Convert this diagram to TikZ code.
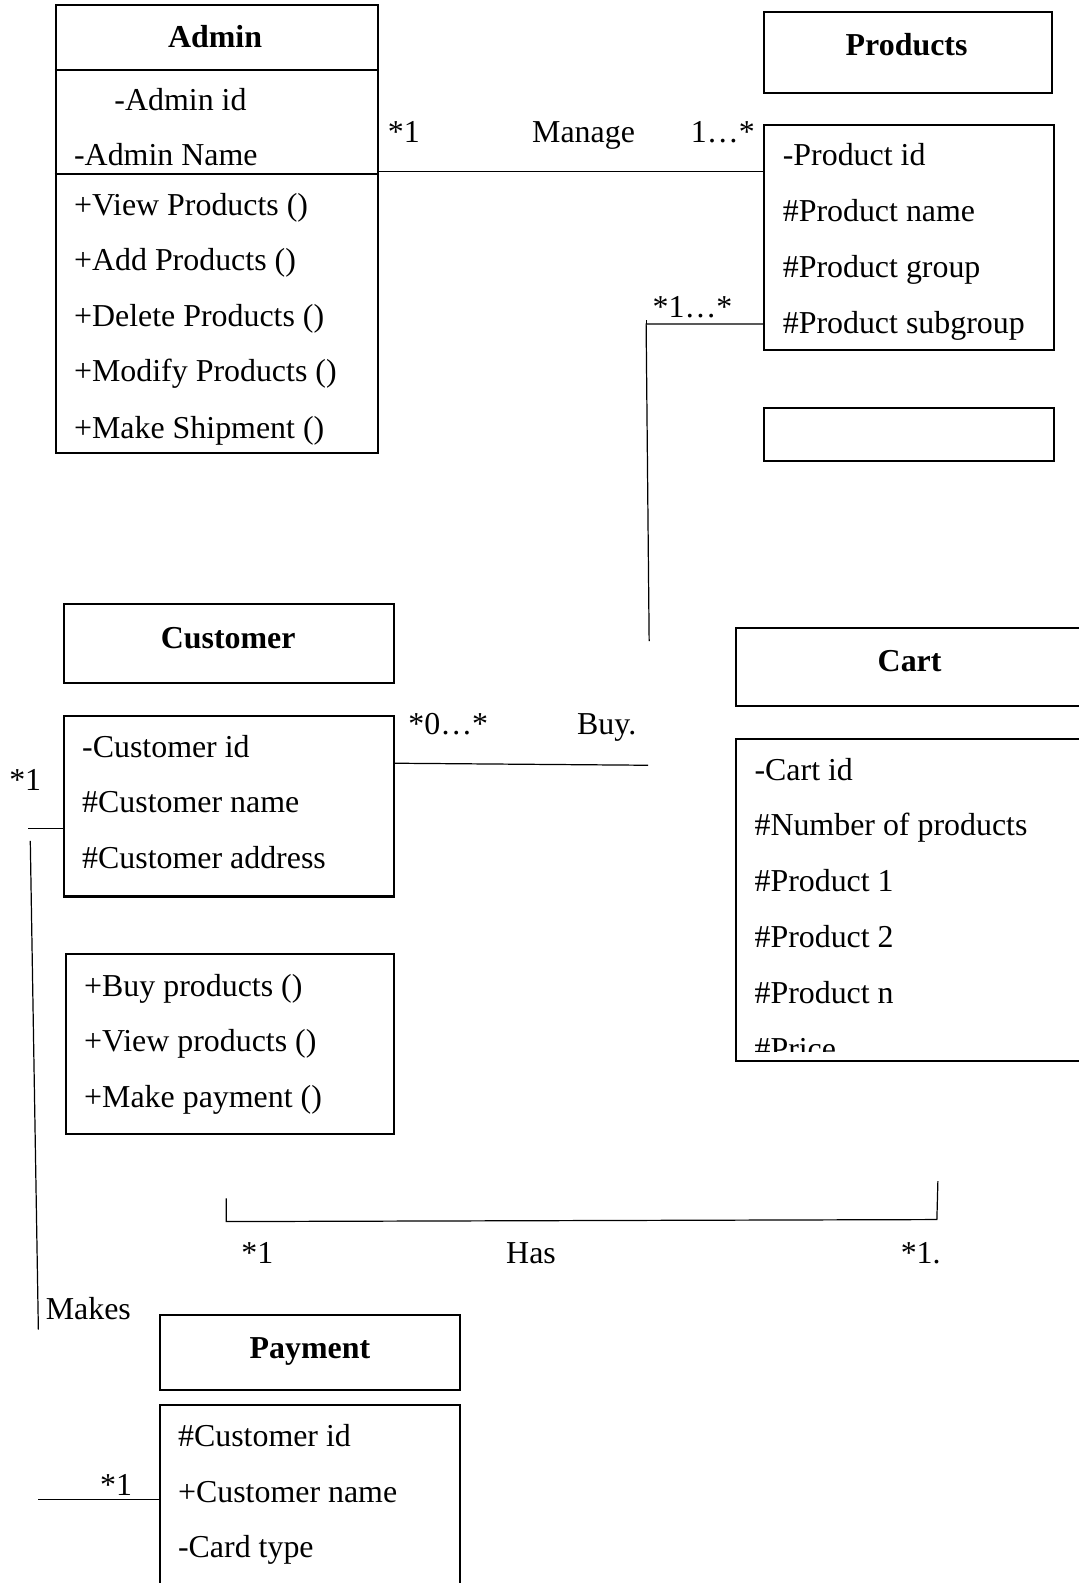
\documentclass[tikz,border=0pt]{standalone}
\usepackage{fontspec}
\setmainfont{Liberation Serif}
\usetikzlibrary{fit}
\begin{document}
\begin{tikzpicture}[x=0.5pt,y=-0.5pt,
  every node/.style={font=\fontsize{15.8}{19}\selectfont,inner sep=0pt},
  box/.style={draw,line width=1pt,inner sep=0pt},
  head/.style={font=\fontsize{15.8}{19}\selectfont\bfseries,anchor=base},
  item/.style={anchor=base west},
  lbl/.style={anchor=base},
  link/.style={line width=0.6pt}]
\useasboundingbox (0,0) rectangle (1068,1568);
% Admin
\node[box,fit={(55,5) (374,449)}] (admin) {};
\draw[line width=1pt] (admin.west |- 0,69) -- (admin.east |- 0,69);
\draw[line width=1pt] (admin.west |- 0,172) -- (admin.east |- 0,172);
\node[head] (admint) at (213,47) {Admin};
\node[item] (aid) at (113,109) {-Admin id};
\node[item] (aname) at (73,164) {-Admin Name};
\node[item] (aview) at (73,213) {+View Products ()};
\node[item] (aadd) at (73,268) {+Add Products ()};
\node[item] (adel) at (73,323) {+Delete Products ()};
\node[item] (amod) at (73,378) {+Modify Products ()};
\node[item] (aship) at (73,434) {+Make Shipment ()};
% Products
\node[box,fit={(757,12) (1042,92)}] (prod) {};
\node[head] (prodt) at (898,55) {Products};
\node[box,fit={(757,124) (1044,347)}] (prodatt) {};
\node[item] (pid) at (775,164) {-Product id};
\node[item] (pname) at (775,219) {\#Product name};
\node[item] (pgroup) at (775,275) {\#Product group};
\node[item] (psub) at (775,330) {\#Product subgroup};
\node[box,fit={(757,404) (1044,457)}] (prodop) {};
% Customer
\node[box,fit={(63,598) (390,677)}] (cust) {};
\node[head] (custt) at (226,642) {Customer};
\node[box,fit={(63,709) (390,888)}] (custatt) {};
\node[item] (cid) at (81,750) {-Customer id};
\node[item] (cname) at (81,805) {\#Customer name};
\node[item] (caddr) at (81,860) {\#Customer address};
\node[box,fit={(65,945) (390,1123)}] (custop) {};
\node[item] (cbuy) at (83,987) {+Buy products ()};
\node[item] (cview) at (83,1042) {+View products ()};
\node[item] (cpay) at (83,1097) {+Make payment ()};
% Cart
\node[box,fit={(729,622) (1078,699)}] (cart) {};
\node[head] (cartt) at (901,665) {Cart};
\node[box,fit={(729,732) (1078,1051)}] (cartatt) {};
\node[item] (kid) at (747,773) {-Cart id};
\node[item] (knum) at (747,828) {\#Number of products};
\node[item] (kp1) at (747,883) {\#Product 1};
\node[item] (kp2) at (747,939) {\#Product 2};
\node[item] (kpn) at (747,994) {\#Product n};
\begin{scope}
\clip (729,1000) rectangle (1068,1042);
\node[item] (kprice) at (747,1049) {\#Price};
\end{scope}
% Payment
\node[box,fit={(158,1303) (456,1377)}] (pay) {};
\node[head] (payt) at (307,1346) {Payment};
\node[box,fit={(158,1392) (456,1580)}] (payatt) {};
\node[item] (ycid) at (176,1433) {\#Customer id};
\node[item] (ycname) at (176,1488) {+Customer name};
\node[item] (ycard) at (176,1543) {-Card type};
% free ends
\coordinate (subturn) at (640,321);
\coordinate (subtick) at (640,317);
\coordinate (subend) at (643,635);
\coordinate (buyend) at (642,758);
\coordinate (mkstub) at (28,821);
\coordinate (mktop) at (30,833);
\coordinate (mkbot) at (38,1317);
\coordinate (hasl) at (224,1187);
\coordinate (hasbl) at (224,1210);
\coordinate (hasbr) at (928,1208);
\coordinate (hasr) at (929,1170);
\coordinate (paystub) at (38,1485);
% links
\draw[link] (admin.east |- 0,170) -- (prodatt.west |- 0,170);
\node[lbl] (m1) at (400,141) {*1};
\node[lbl] (mname) at (578,141) {Manage};
\node[lbl] (m2) at (716,141) {1…*};
\draw[link] (prodatt.west |- subturn) -- (subturn) -- (subend);
\draw[link] (subtick) -- (subturn);
\node[lbl] (s1) at (686,314) {*1…*};
\draw[link] (custatt.east |- 0,756) -- (buyend);
\node[lbl] (b1) at (444,728) {*0…*};
\node[lbl] (bname) at (601,728) {Buy.};
\draw[link] (mkstub) -- (custatt.west |- mkstub);
\draw[link] (mktop) -- (mkbot);
\node[lbl] (k1) at (25,783) {*1};
\node[item] (kname) at (45,1307) {Makes};
\draw[link] (paystub) -- (payatt.west |- paystub);
\node[lbl] (k2) at (115,1481) {*1};
\draw[link] (hasl) -- (hasbl) -- (hasbr) -- (hasr);
\node[lbl] (h1) at (255,1252) {*1};
\node[lbl] (hname) at (526,1252) {Has};
\node[lbl] (h2) at (912,1252) {*1.};
\end{tikzpicture}
\end{document}
